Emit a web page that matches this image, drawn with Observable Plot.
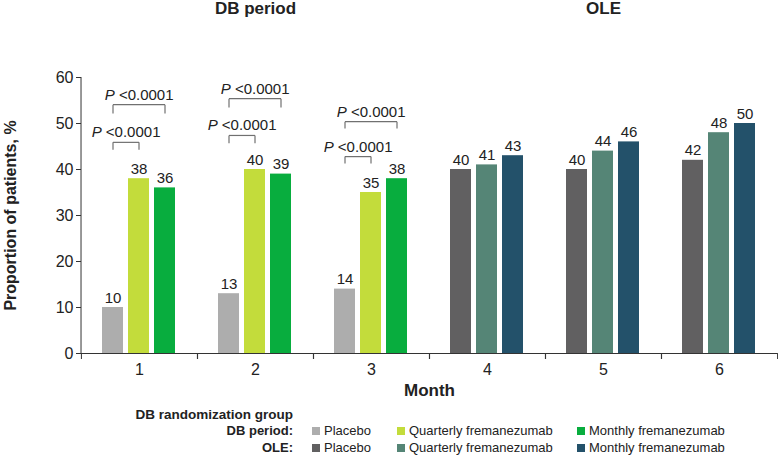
<!DOCTYPE html>
<html>
<head>
<meta charset="utf-8">
<script src="https://cdn.jsdelivr.net/npm/d3@7"></script>
<script src="https://cdn.jsdelivr.net/npm/@observablehq/plot@0.6"></script>
<style>
  html, body { margin: 0; padding: 0; background: #fff; }
  #chart { width: 778px; }
  #legend { position: relative; width: 778px; height: 57px; font-family: "Liberation Sans", Arial, sans-serif; font-size: 13px; color: #222; }
  #legend span { position: absolute; white-space: nowrap; line-height: 16px; }
  #legend .sw { width: 8px; height: 8px; }
  #legend .hd { font-weight: bold; }
</style>
</head>
<body>
<div id="chart"></div>
<div id="legend"></div>
<script>
// ---- data ----
const months = [1, 2, 3, 4, 5, 6];
const groups = ["Placebo", "Quarterly fremanezumab", "Monthly fremanezumab"];
const periodOfMonth = ["DB period", "DB period", "DB period", "OLE", "OLE", "OLE"];
const placeboValues = [10, 13, 14, 40, 40, 42];
const quarterlyValues = [38, 40, 35, 41, 44, 48];
const monthlyValues = [36, 39, 38, 43, 46, 50];
const yTicks = [0, 10, 20, 30, 40, 50, 60];

const periods = ["DB period", "OLE"];
const seriesColors = ["#adadad", "#c3dc3b", "#08ad3e", "#616061", "#558576", "#23516a"];

const bracketMonth = [1, 1, 2, 2, 3, 3];
const bracketTo = ["Quarterly fremanezumab", "Monthly fremanezumab", "Quarterly fremanezumab", "Monthly fremanezumab", "Quarterly fremanezumab", "Monthly fremanezumab"];
const bracketTop = [45.9, 54.1, 47.4, 55.4, 42.8, 50.4];
const bracketBottom = [44.3, 52.2, 45.7, 53.5, 41.3, 48.9];
const pLabel = "P <0.0001";

const titleMonth = [2, 5];
const titleText = ["DB period", "OLE"];

// ---- tables ----
const seriesValues = [placeboValues, quarterlyValues, monthlyValues];
const keys = [];
periods.forEach(p => groups.forEach(g => keys.push(p + " | " + g)));
const rows = [];
months.forEach((m, i) => groups.forEach((g, j) => rows.push({
  month: m, group: g, value: seriesValues[j][i], key: periodOfMonth[i] + " | " + g
})));
const brackets = bracketMonth.map((m, i) => ({
  month: m, from: groups[0], to: bracketTo[i], top: bracketTop[i], bottom: bracketBottom[i], label: pLabel
}));
const titles = titleMonth.map((m, i) => ({month: m, title: titleText[i]}));
const yAxisLine = [{month: months[0], group: groups[0]}];

// ---- layout ----
const W = 778, H = 398, ML = 80, MR = 1, MT = 77, MB = 45;
const bandW = (W - ML - MR) / months.length;
const pInner = 0.19, pOuter = 0.82;
const step = bandW / (groups.length - pInner + 2 * pOuter);
const leftInset = step * pOuter + step * (1 - pInner) / 2;
const ink = "#222";
const lineInk = "#333";
const bracketInk = "#707070";

const bracketMarks = brackets.flatMap(b => {
  const span = groups.indexOf(b.to) - groups.indexOf(b.from);
  return [
    Plot.link([b], {fx: "month", x1: "from", x2: "to", y1: "top", y2: "top", stroke: bracketInk, strokeWidth: 1.2}),
    Plot.link([b], {fx: "month", x1: "from", x2: "from", y1: "bottom", y2: "top", stroke: bracketInk, strokeWidth: 1.2}),
    Plot.link([b], {fx: "month", x1: "to", x2: "to", y1: "bottom", y2: "top", stroke: bracketInk, strokeWidth: 1.2}),
    Plot.text([b], {fx: "month", x: "from", y: "top", text: "label", dx: span * step / 2, dy: -5, lineAnchor: "bottom", fontSize: 15, fill: ink})
  ];
});

const plot = Plot.plot({
  width: W, height: H,
  marginLeft: ML, marginRight: MR, marginTop: MT, marginBottom: MB,
  style: {fontFamily: "Liberation Sans, Arial, sans-serif", fontSize: "16px", color: ink, background: "white"},
  fx: {domain: months, padding: 0, axis: null, label: null},
  x: {domain: groups, paddingInner: pInner, paddingOuter: pOuter, axis: null, label: null},
  y: {domain: [0, 60], axis: null, label: null},
  color: {domain: keys, range: seriesColors},
  marks: [
    Plot.axisY({ticks: yTicks, tickSize: 5, tickPadding: 3, label: null, stroke: lineInk}),
    Plot.axisY({ticks: [], tickSize: 0, label: "Proportion of patients, %", labelArrow: "none", labelAnchor: "center", fontWeight: "bold", fontSize: 16}),
    Plot.ruleX(yAxisLine, {fx: "month", x: "group", y1: 0, y2: 60, dx: -leftInset, stroke: lineInk}),
    Plot.axisFx({anchor: "bottom", tickSize: 0, tickPadding: 10, label: null}),
    Plot.axisFx({anchor: "bottom", tickSize: 6, fill: "none", stroke: lineInk, label: null, dx: -bandW / 2}),
    Plot.axisFx({anchor: "bottom", tickSize: 6, fill: "none", stroke: lineInk, label: null, dx: bandW / 2}),
    Plot.axisFx({anchor: "bottom", ticks: [], tickSize: 0, label: "Month", labelArrow: "none", labelAnchor: "center", fontWeight: "bold", fontSize: 17}),
    Plot.barY(rows, {fx: "month", x: "group", y: "value", fill: "key"}),
    Plot.ruleY([0], {stroke: lineInk}),
    Plot.text(rows, {fx: "month", x: "group", y: "value", text: "value", dy: -5, lineAnchor: "bottom", fontSize: 15, fill: ink}),
    ...bracketMarks,
    Plot.text(titles, {fx: "month", frameAnchor: "top", text: "title", dy: -76, lineAnchor: "top", fontWeight: "bold", fontSize: 17, fill: ink})
  ]
});

// italic P in the significance labels
d3.select(plot).selectAll("text").each(function () {
  if (this.textContent === pLabel) {
    const rest = pLabel.slice(1);
    this.textContent = "";
    d3.select(this).append("tspan").attr("font-style", "italic").text(pLabel[0]);
    d3.select(this).append("tspan").text(rest);
  }
});
document.getElementById("chart").appendChild(plot);

// ---- legend ----
const legend = document.getElementById("legend");
function add(text, cls, style) {
  const s = document.createElement("span");
  s.className = cls;
  if (text) s.textContent = text;
  Object.assign(s.style, style);
  legend.appendChild(s);
  return s;
}
const rowLabels = ["DB period:", "OLE:"];
const itemX = [312, 397, 577];
add("DB randomization group", "hd", {right: (778 - 293) + "px", top: "9px", fontSize: "13.5px"});
periods.forEach((p, r) => {
  const top = 25 + r * 16.5;
  add(rowLabels[r], "hd", {right: (778 - 293) + "px", top: top + "px"});
  groups.forEach((g, j) => {
    add("", "sw", {left: itemX[j] + "px", top: (top + 4) + "px", background: seriesColors[r * 3 + j]});
    add(g, "", {left: (itemX[j] + 12) + "px", top: top + "px"});
  });
});
</script>
</body>
</html>
